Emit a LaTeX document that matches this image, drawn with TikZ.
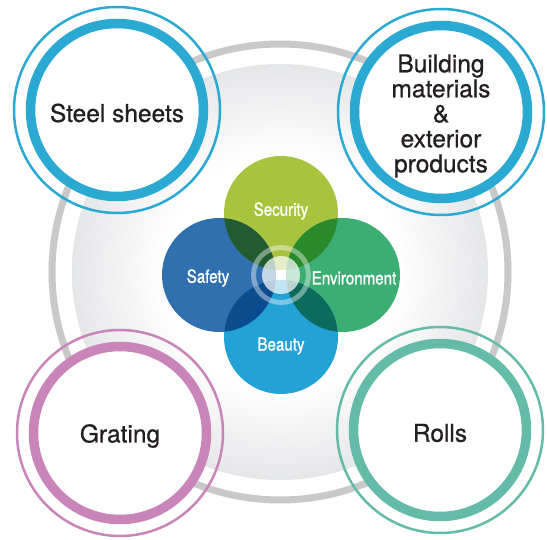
\documentclass[tikz,border=0pt]{standalone}
\usepackage{fontspec}
\usetikzlibrary{calc}
\setmainfont[FakeBold=0.7]{TeX Gyre Heros}
\newfontfamily\condfont[FakeStretch=0.84,FakeBold=1.1]{TeX Gyre Heros}
\definecolor{secC}{HTML}{A8C43F}
\definecolor{safC}{HTML}{3170AE}
\definecolor{envC}{HTML}{3BAE74}
\definecolor{beaC}{HTML}{22A2D5}
\definecolor{secsafC}{HTML}{235B30}
\definecolor{secenvC}{HTML}{2A8A2C}
\definecolor{safbeaC}{HTML}{0B4C8E}
\definecolor{envbeaC}{HTML}{0B6B5C}
\definecolor{cyanC}{HTML}{2AA9D2}
\definecolor{pinkC}{HTML}{C985B9}
\definecolor{tealC}{HTML}{63BBA8}
\definecolor{ringC}{HTML}{C9C9CA}
\definecolor{bgedge}{HTML}{E5E6E8}
\definecolor{txtC}{HTML}{231F20}
\pgfdeclareradialshading{bgdisc}{\pgfpoint{0bp}{0bp}}{color(0bp)=(white); color(14bp)=(white); color(25bp)=(bgedge); color(50bp)=(bgedge)}
\tikzset{
  petal/.style={circle, fill=#1, minimum size=114, inner sep=0pt},
  petaltext/.style={text=white, font=\condfont\fontsize{18}{20}\selectfont, inner sep=0pt},
  catring/.style={circle, draw=#1, line width=9.5, fill=white, minimum size=173, inner sep=0pt},
  thinring/.style={draw=#1, line width=2.5},
  cattext/.style={text=txtC, font=\fontsize{24.5}{25}\selectfont, align=center, inner sep=0pt}
}
\begin{document}
\begin{tikzpicture}[x=1pt,y=-1pt]
\useasboundingbox (0,0) rectangle (547,540);
\clip (0,0) rectangle (547,540);
\fill[white] (0,0) rectangle (547,540);
% background disc and grey ring
\coordinate (bgc) at (280,272);
\shade[shading=bgdisc] (bgc) circle (208);
\draw[ringC, line width=7] (bgc) circle (228);
% clover
\coordinate (cc) at (281,275);
\node[petal=secC] (sec) at (281,213) {};
\node[petal=safC] (saf) at (219,275) {};
\node[petal=envC] (env) at (343,275) {};
\node[petal=beaC] (bea) at (281,337) {};
\begin{scope}
  \clip (sec.center) circle (57);
  \fill[secsafC] (saf.center) circle (57);
  \fill[secenvC] (env.center) circle (57);
\end{scope}
\begin{scope}
  \clip (bea.center) circle (57);
  \fill[safbeaC] (saf.center) circle (57);
  \fill[envbeaC] (env.center) circle (57);
\end{scope}
% centre ornament
\fill[white, opacity=0.72] (cc) circle (19);
\draw[white, opacity=0.4, line width=5] (cc) circle (27.5);
\fill[white] ($(cc)+(-5,-5)$) rectangle ($(cc)+(5,5)$);
% petal labels
\node[petaltext] (sectxt) at (281,211) {Security};
\node[petaltext] (saftxt) at (208,278) {Safety};
\node[petaltext] (envtxt) at (354,278) {Environment};
\node[petaltext] (beatxt) at (281,346) {Beauty};
% corner circles
\node[catring=cyanC] (steel) at (117,110) {};
\draw[thinring=cyanC] (steel.center) circle (103);
\path (steel.center) ++(0,3) node[cattext] (steeltxt) {Steel sheets};
\node[catring=cyanC] (build) at (441,112) {};
\draw[thinring=cyanC] (build.center) circle (103);
\path (build.center) ++(0,4) node[cattext] (buildtxt) {Building\\materials\\\&\\exterior\\products};
\node[catring=pinkC] (grat) at (120,433) {};
\draw[thinring=pinkC] (grat.center) circle (103);
\path (grat.center) ++(0,3) node[cattext] (grattxt) {Grating};
\node[catring=tealC] (roll) at (440,430) {};
\draw[thinring=tealC] (roll.center) circle (103);
\path (roll.center) ++(0,3) node[cattext] (rolltxt) {Rolls};
\end{tikzpicture}
\end{document}
